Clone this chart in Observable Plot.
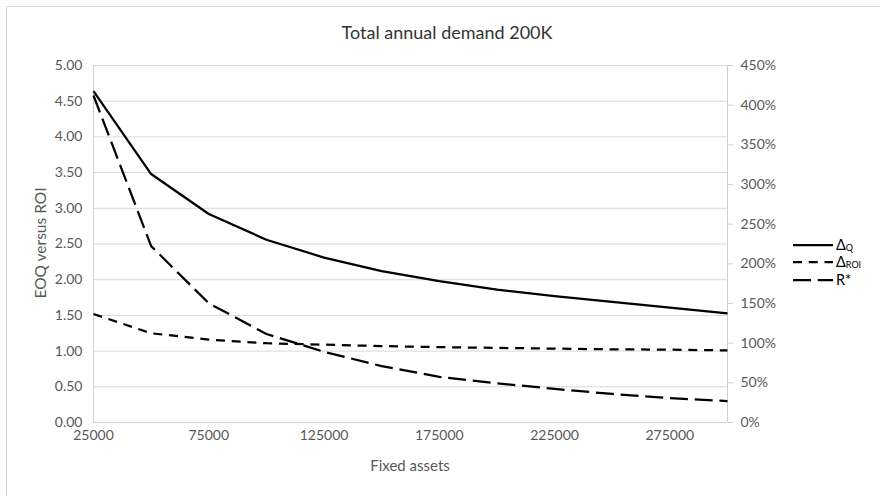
<!DOCTYPE html>
<html><head><meta charset="utf-8">
<script src="https://cdn.jsdelivr.net/npm/d3@7"></script>
<script src="https://cdn.jsdelivr.net/npm/@observablehq/plot@0.6"></script>
<style>
body{margin:0;background:#fff;}
#wrap{position:relative;width:880px;height:496px;overflow:hidden;font-family:Lato,"Liberation Sans",sans-serif;}
#border{position:absolute;left:6px;top:6px;width:900px;height:520px;border-top:1px solid #d9d9d9;border-left:1px solid #d9d9d9;pointer-events:none;}
#title{position:absolute;left:7px;width:880px;top:21px;text-align:center;font-size:18px;line-height:22px;color:#333;}
#ylab{position:absolute;left:40px;top:243px;transform:translate(-50%,-50%) rotate(-90deg);font-size:15.5px;color:#595959;white-space:nowrap;}
#xlab{position:absolute;left:410px;top:465px;transform:translate(-50%,-50%);font-size:15px;color:#595959;white-space:nowrap;}
#legend{position:absolute;left:793px;top:236px;font-size:14.5px;color:#000;}
.row{display:flex;align-items:center;height:17.5px;}
.row span{margin-left:3px;line-height:14px;display:inline-block;}
sub{font-size:9px;vertical-align:-1px;line-height:0;}
#plot{position:absolute;left:0;top:0;}
</style></head>
<body>
<div id="wrap">
<div id="plot"></div>
<div id="border"></div>
<div id="title">Total annual demand 200K</div>
<div id="ylab">EOQ versus ROI</div>
<div id="xlab">Fixed assets</div>
<div id="legend"></div>
</div>
<script>
const fixedAssets = [25000, 50000, 75000, 100000, 125000, 150000, 175000, 200000, 225000, 250000, 275000, 300000];
const deltaQ   = [4.64, 3.48, 2.92, 2.56, 2.31, 2.12, 1.98, 1.86, 1.77, 1.69, 1.61, 1.53];
const deltaROI = [1.52, 1.25, 1.16, 1.11, 1.09, 1.07, 1.055, 1.045, 1.035, 1.025, 1.02, 1.01];
const rStar    = [4.58, 2.47, 1.67, 1.24, 0.99, 0.79, 0.64, 0.55, 0.47, 0.40, 0.34, 0.30];
const seriesNames = ["ΔQ", "ΔROI", "R*"];
const xTicks = [25000, 75000, 125000, 175000, 225000, 275000];
const leftTicks = [0, 0.5, 1, 1.5, 2, 2.5, 3, 3.5, 4, 4.5, 5];
const rightTicks = [0, 50, 100, 150, 200, 250, 300, 350, 400, 450];
const pctPerUnit = 90; // 450% on the right axis matches 5.00 on the left

const dashes = [null, "9,6.75", "18,6.75"];
const seriesValues = [deltaQ, deltaROI, rStar];
const rows = [];
seriesValues.forEach((vals, s) => vals.forEach((v, i) => rows.push({x: fixedAssets[i], y: v, s})));

const axisGray = "#d0d0d0";
const textGray = "#595959";
const fs = 14;

const chart = Plot.plot({
  width: 880, height: 496,
  marginLeft: 93, marginRight: 153, marginTop: 65, marginBottom: 74,
  style: {fontFamily: "Lato, 'Liberation Sans', sans-serif", fontSize: "14px", color: textGray, background: "transparent"},
  x: {type: "linear", domain: [25000, 300000]},
  y: {domain: [0, 5]},
  marks: [
    Plot.gridY(leftTicks, {stroke: "#d9d9d9", strokeOpacity: 1, strokeWidth: 1}),
    Plot.ruleX([25000], {stroke: axisGray}),
    Plot.ruleX([300000], {stroke: axisGray}),
    Plot.ruleY([0], {stroke: axisGray}),
    Plot.axisY(leftTicks, {anchor: "left", tickSize: 0, tickPadding: 11, tickFormat: d => d.toFixed(2), label: null, fill: textGray, fontSize: fs}),
    Plot.axisY(rightTicks.map(p => p / pctPerUnit), {anchor: "right", tickSize: 5, tickPadding: 8, stroke: axisGray, tickFormat: d => Math.round(d * pctPerUnit) + "%", label: null, fill: textGray, fontSize: fs}),
    Plot.axisX(xTicks, {tickSize: 0, tickPadding: 8, tickFormat: d => String(d), label: null, fill: textGray, fontSize: fs}),
    ...seriesValues.map((vals, s) => Plot.line(rows.filter(r => r.s === s), {
      x: "x", y: "y", stroke: "#000", strokeWidth: 2.25,
      strokeDasharray: dashes[s], strokeLinecap: "butt", strokeLinejoin: "round"
    }))
  ]
});
document.getElementById("plot").appendChild(chart);

const legend = document.getElementById("legend");
const labelsHtml = ["Δ<sub>Q</sub>", "Δ<sub>ROI</sub>", "R*"];
seriesNames.forEach((name, s) => {
  const row = document.createElement("div");
  row.className = "row";
  row.innerHTML = `<svg width="40" height="16"><line x1="0" x2="40" y1="8" y2="8" stroke="#000" stroke-width="2.25" ${dashes[s] ? `stroke-dasharray="${dashes[s]}"` : ""}/></svg><span title="${name}">${labelsHtml[s]}</span>`;
  legend.appendChild(row);
});
</script>
</body></html>
